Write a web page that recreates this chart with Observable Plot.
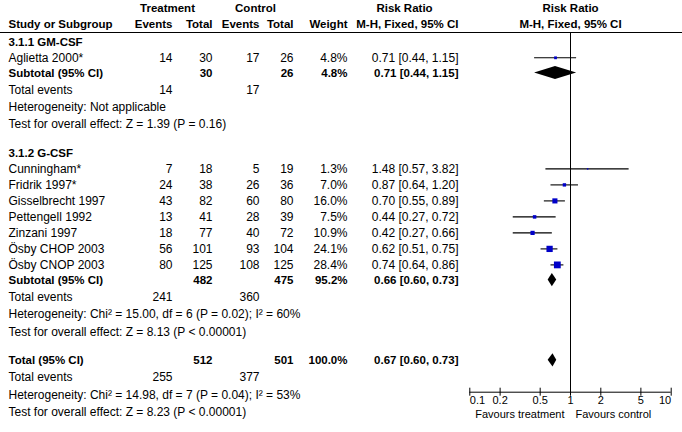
<!DOCTYPE html>
<html><head><meta charset="utf-8">
<script src="https://cdn.jsdelivr.net/npm/d3@7"></script>
<script src="https://cdn.jsdelivr.net/npm/@observablehq/plot@0.6"></script>
<style>body{margin:0;background:#fff}</style>
</head><body><div id="chart"></div>
<script>
// ---------- data ----------
const groupNames = ["3.1.1 GM-CSF", "3.1.2 G-CSF"];
const studyGroup = [0, 1, 1, 1, 1, 1, 1, 1];
const studies = ["Aglietta 2000*", "Cunningham*", "Fridrik 1997*", "Gisselbrecht 1997", "Pettengell 1992", "Zinzani 1997", "Ösby CHOP 2003", "Ösby CNOP 2003"];
const tEvents = [14, 7, 24, 43, 13, 18, 56, 80];
const tTotal  = [30, 18, 38, 82, 41, 77, 101, 125];
const cEvents = [17, 5, 26, 60, 28, 40, 93, 108];
const cTotal  = [26, 19, 36, 80, 39, 72, 104, 125];
const weights = [4.8, 1.3, 7.0, 16.0, 7.5, 10.9, 24.1, 28.4];
const rr      = [0.71, 1.48, 0.87, 0.70, 0.44, 0.42, 0.62, 0.74];
const rrLo    = [0.44, 0.57, 0.64, 0.55, 0.27, 0.27, 0.51, 0.64];
const rrHi    = [1.15, 3.82, 1.20, 0.89, 0.72, 0.66, 0.75, 0.86];

const subTTotal = [30, 482];
const subCTotal = [26, 475];
const subWeight = [4.8, 95.2];
const subRR = [0.71, 0.66];
const subLo = [0.44, 0.60];
const subHi = [1.15, 0.73];
const subEvT = [14, 241];
const subEvC = [17, 360];
const subHet = ["Not applicable", "Chi² = 15.00, df = 6 (P = 0.02); I² = 60%"];
const subZ = ["Z = 1.39 (P = 0.16)", "Z = 8.13 (P < 0.00001)"];

const totTTotal = 512, totCTotal = 501, totWeight = 100.0;
const totRR = 0.67, totLo = 0.60, totHi = 0.73;
const totEvT = 255, totEvC = 377;
const totHet = "Chi² = 14.98, df = 7 (P = 0.04); I² = 53%";
const totZ = "Z = 8.23 (P < 0.00001)";

const axisTicks = [0.1, 0.2, 0.5, 1, 2, 5, 10];
const axisLabels = ["0.1", "0.2", "0.5", "1", "2", "5", "10"];

// ---------- layout ----------
const FONT = "Arial, 'Liberation Sans', sans-serif";
const FS = 12, FSB = 11.5, FSAX = 11;
const ciText = (e, l, h) => `${e.toFixed(2)} [${l.toFixed(2)}, ${h.toFixed(2)}]`;
const GAP = {head: 15.6, study: 16, sub: 15.2, info: 17.2, group: 28.7, total: 28.6};
const rows = [];
let yy = 41.7;
function add(row, gap) { if (rows.length) yy += gap; row.y = yy; rows.push(row); }

groupNames.forEach((g, gi) => {
  add({kind: "group", bold: true, name: g}, GAP.group);
  let first = true;
  studies.forEach((s, i) => {
    if (studyGroup[i] !== gi) return;
    add({kind: "study", bold: false, name: s, tEv: String(tEvents[i]), tTot: String(tTotal[i]),
         cEv: String(cEvents[i]), cTot: String(cTotal[i]), w: weights[i], wTxt: weights[i].toFixed(1) + "%",
         est: rr[i], lo: rrLo[i], hi: rrHi[i], ci: ciText(rr[i], rrLo[i], rrHi[i])}, first ? GAP.head : GAP.study);
    first = false;
  });
  add({kind: "sub", bold: true, name: "Subtotal (95% CI)", tTot: String(subTTotal[gi]), cTot: String(subCTotal[gi]),
       wTxt: subWeight[gi].toFixed(1) + "%", est: subRR[gi], lo: subLo[gi], hi: subHi[gi],
       ci: ciText(subRR[gi], subLo[gi], subHi[gi])}, GAP.sub);
  add({kind: "info", bold: false, name: "Total events", tEv: String(subEvT[gi]), cEv: String(subEvC[gi])}, GAP.info);
  add({kind: "info", bold: false, name: "Heterogeneity: " + subHet[gi]}, GAP.info);
  add({kind: "info", bold: false, name: "Test for overall effect: " + subZ[gi]}, GAP.info);
});
add({kind: "sub", bold: true, name: "Total (95% CI)", tTot: String(totTTotal), cTot: String(totCTotal),
     wTxt: totWeight.toFixed(1) + "%", est: totRR, lo: totLo, hi: totHi, ci: ciText(totRR, totLo, totHi)}, GAP.total);
add({kind: "info", bold: false, name: "Total events", tEv: String(totEvT), cEv: String(totEvC)}, GAP.info);
add({kind: "info", bold: false, name: "Heterogeneity: " + totHet}, GAP.info);
add({kind: "info", bold: false, name: "Test for overall effect: " + totZ}, GAP.info);

const H1 = 8, H2 = 24, LINE_Y = 32, AXIS_Y = 391.7, TICK_Y = 400, FAV_Y = 414;
const cols = [
  {key: "name", x: 8, anchor: "start"},
  {key: "tEv", x: 172, anchor: "end"},
  {key: "tTot", x: 212, anchor: "end"},
  {key: "cEv", x: 259, anchor: "end"},
  {key: "cTot", x: 293, anchor: "end"},
  {key: "wTxt", x: 347, anchor: "end"},
  {key: "ci", x: 458, anchor: "end"}
];
const headRow2 = {y: H2, bold: true, name: "Study or Subgroup", tEv: "Events", tTot: "Total", cEv: "Events",
                  cTot: "Total", wTxt: "Weight", ci: "M-H, Fixed, 95% CI"};
const headRow1 = [
  {y: H1, text: "Treatment", x: 167},
  {y: H1, text: "Control", x: 255},
  {y: H1, text: "Risk Ratio", x: 404}
];
const allTextRows = [headRow2, ...rows];

const diamonds = [];
rows.filter(r => r.kind === "sub").forEach((r, i) => {
  diamonds.push({id: i, y: r.y - 6.6, x1: r.est, x2: r.est});
  diamonds.push({id: i, y: r.y, x1: r.lo, x2: r.hi});
  diamonds.push({id: i, y: r.y + 6.6, x1: r.est, x2: r.est});
});
const studyRows = rows.filter(r => r.kind === "study");

const txt = (extra) => ({fontFamily: FONT, fill: "#000", ...extra});
const labelOf = d => axisLabels[axisTicks.indexOf(d)];

const marks = [
  Plot.ruleY([LINE_Y], {stroke: "#000"}),
  Plot.ruleX([1], {y1: () => LINE_Y, y2: () => AXIS_Y, stroke: "#000"}),
  Plot.ruleY(studyRows, {y: "y", x1: "lo", x2: "hi", stroke: "#000", strokeWidth: 1.1}),
  Plot.dot(studyRows, {x: "est", y: "y", r: "w", symbol: "square", fill: "#0000c8", stroke: "none"}),
  Plot.areaX(diamonds, {y: "y", x1: "x1", x2: "x2", z: "id", fill: "#000", curve: "linear"}),
  // axis
  Plot.ruleY([AXIS_Y], {x1: () => axisTicks[0], x2: () => axisTicks[axisTicks.length - 1], stroke: "#000"}),
  Plot.ruleX(axisTicks, {x: d => d, y1: () => AXIS_Y - 4, y2: () => AXIS_Y + 4, stroke: "#000"}),
  Plot.text(axisTicks.slice(0, 1), txt({x: d => d, y: () => TICK_Y, text: labelOf, textAnchor: "start", fontSize: FSAX})),
  Plot.text(axisTicks.slice(1, -1), txt({x: d => d, y: () => TICK_Y, text: labelOf, textAnchor: "middle", fontSize: FSAX})),
  Plot.text(axisTicks.slice(-1), txt({x: d => d, y: () => TICK_Y, text: labelOf, textAnchor: "end", fontSize: FSAX})),
  Plot.text(["Favours treatment"], txt({x: () => 1, y: () => FAV_Y, text: d => d, textAnchor: "end", dx: -6, fontSize: FSAX})),
  Plot.text(["Favours control"], txt({x: () => 1, y: () => FAV_Y, text: d => d, textAnchor: "start", dx: 5, fontSize: FSAX})),
  // right-panel header
  Plot.text(["Risk Ratio"], txt({x: () => 1, y: () => H1, text: d => d, fontWeight: "bold", fontSize: FSB})),
  Plot.text(["M-H, Fixed, 95% CI"], txt({x: () => 1, y: () => H2, text: d => d, fontWeight: "bold", fontSize: FSB})),
  ...headRow1.map(h => Plot.text([h], txt({y: "y", text: "text", frameAnchor: "left", dx: h.x, textAnchor: "middle", fontWeight: "bold", fontSize: FSB})))
];
for (const c of cols) {
  for (const bold of [false, true]) {
    const data = allTextRows.filter(r => !!r.bold === bold && r[c.key] != null);
    if (!data.length) continue;
    marks.push(Plot.text(data, txt({y: "y", text: c.key, frameAnchor: "left", dx: c.x, textAnchor: c.anchor,
                                fontWeight: bold ? "bold" : "normal", fontSize: bold ? FSB : FS})));
  }
}

const chart = Plot.plot({
  width: 682, height: 432,
  marginLeft: 0, marginRight: 0, marginTop: 0, marginBottom: 0,
  style: {fontFamily: FONT, fontSize: "12px", color: "#000", background: "#fff"},
  x: {type: "log", domain: [0.1, 10], range: [469.3, 670.7], axis: null},
  y: {type: "identity", axis: null},
  r: {type: "sqrt", domain: [0, 30], range: [0, 3.95]},
  marks
});
document.getElementById("chart").appendChild(chart);
</script>
</body></html>
